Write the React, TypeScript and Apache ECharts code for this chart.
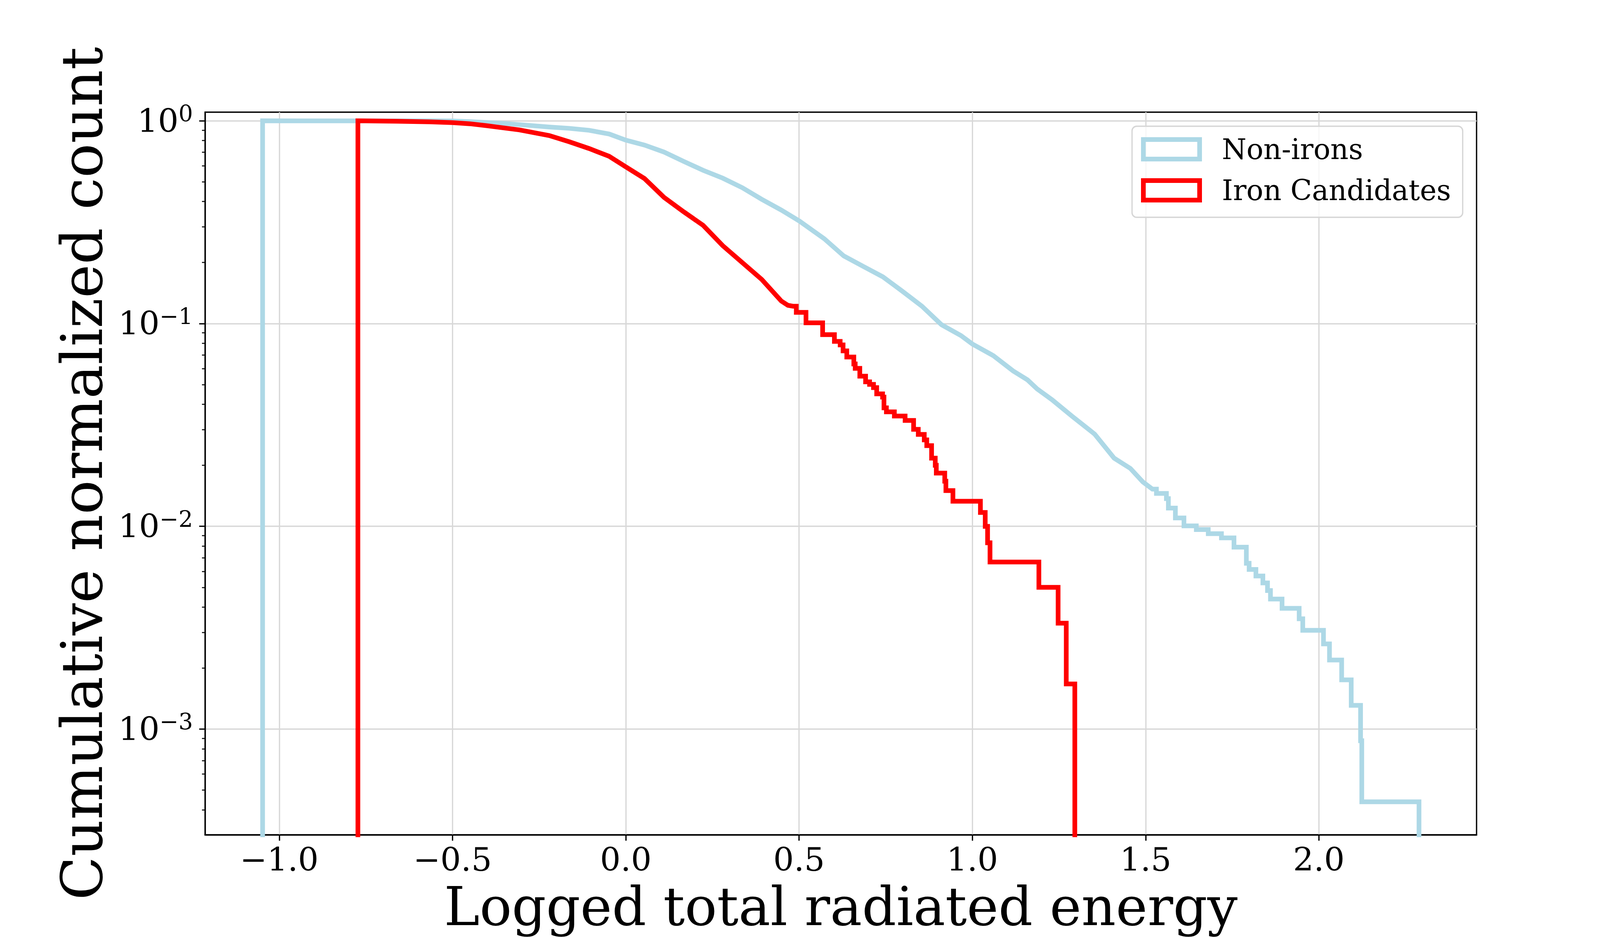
import React, { useEffect, useRef } from "react";
import * as echarts from "echarts";

// ---------- axis setup ----------
const X_TICKS = [-1.0, -0.5, 0.0, 0.5, 1.0, 1.5, 2.0];
const Y_DECADES = [-3, -2, -1, 0]; // exponents of the major log ticks
const X_RANGE = [-1.214, 2.455];
const Y_RANGE = [3.01e-4, 1.103]; // normalized count range (log scale)

// ---------- Non-irons (light blue) ----------
// dense part of the cumulative curve
const nonIronSmoothX = [-1.048, -0.55, -0.5, -0.45, -0.399, -0.336, -0.278, -0.221, -0.163, -0.106, -0.048, 0.0, 0.054, 0.1105, 0.1669, 0.2232, 0.2796, 0.336, 0.3923, 0.4487, 0.5013, 0.5727, 0.629, 0.6855, 0.742, 0.798, 0.8546, 0.911, 0.967, 1.0, 1.061, 1.1176, 1.159, 1.187, 1.23, 1.288, 1.353, 1.409, 1.456, 1.492];
const nonIronSmoothY = [1.0, 0.999, 0.998, 0.991, 0.981, 0.966, 0.949, 0.932, 0.918, 0.898, 0.861, 0.803, 0.759, 0.701, 0.631, 0.57, 0.5215, 0.468, 0.41, 0.363, 0.32, 0.262, 0.2155, 0.1913, 0.17, 0.1444, 0.1218, 0.0987, 0.0873, 0.0793, 0.0694, 0.0584, 0.0528, 0.0476, 0.0421, 0.0349, 0.0285, 0.0217, 0.0193, 0.01656];
// sparse tail: bin edges and the value held between consecutive edges
const nonIronStepEdges = [1.5197, 1.5312, 1.56, 1.5657, 1.5859, 1.6106, 1.6463, 1.6808, 1.7188, 1.755, 1.7907, 1.7987, 1.8183, 1.8384, 1.8517, 1.8603, 1.8937, 1.9431, 1.9535, 2.0133, 2.0306, 2.0657, 2.0933, 2.1203, 2.1238, 2.2889];
const nonIronStepValues = [0.01525, 0.01453, 0.0137, 0.0123, 0.011, 0.01005, 0.00964, 0.0092, 0.00877, 0.00789, 0.00657, 0.00613, 0.00569, 0.00526, 0.00482, 0.00438, 0.00394, 0.0035, 0.00307, 0.00263, 0.00219, 0.00175, 0.00131, 0.000876, 0.000438];

// ---------- Iron Candidates (red) ----------
const ironSmoothX = [-0.773, -0.66, -0.566, -0.5, -0.45, -0.4, -0.307, -0.221, -0.163, -0.106, -0.048, 0.0, 0.054, 0.1105, 0.1669, 0.2232, 0.2796, 0.336, 0.3923, 0.4487, 0.468];
const ironSmoothY = [1.0, 0.995, 0.988, 0.98, 0.967, 0.945, 0.902, 0.846, 0.788, 0.73, 0.668, 0.593, 0.519, 0.419, 0.356, 0.305, 0.2423, 0.2, 0.165, 0.1292, 0.123];
const ironStepEdges = [0.4825, 0.492, 0.52, 0.568, 0.602, 0.6186, 0.627, 0.6377, 0.658, 0.662, 0.6753, 0.692, 0.7035, 0.7148, 0.724, 0.741, 0.745, 0.752, 0.775, 0.806, 0.8305, 0.844, 0.8613, 0.8685, 0.8824, 0.893, 0.896, 0.9204, 0.9237, 0.944, 1.0233, 1.0372, 1.044, 1.051, 1.192, 1.2475, 1.271, 1.2957];
const ironStepValues = [0.1218, 0.1135, 0.1008, 0.0882, 0.0817, 0.0785, 0.0733, 0.0684, 0.0632, 0.0601, 0.055, 0.0516, 0.0501, 0.0483, 0.045, 0.0434, 0.0384, 0.0367, 0.035, 0.0333, 0.0301, 0.0284, 0.0267, 0.025, 0.0217, 0.02, 0.0183, 0.0167, 0.015, 0.0133, 0.0117, 0.01, 0.0083, 0.00667, 0.005, 0.00333, 0.00167];

const FONT = "DejaVu Serif";
const BLUE = "#ADD8E6";
const RED = "#FF0000";
const FLOOR_LOG = -5; // below the axis minimum: the outline drops to the axis and is clipped

function buildOutline(sx: number[], sy: number[], edges: number[], vals: number[]): number[][] {
  const pts: number[][] = [[sx[0], FLOOR_LOG]];
  sx.forEach((x, i) => pts.push([x, Math.log10(sy[i])]));
  for (let i = 0; i < vals.length; i++) {
    const l = Math.log10(vals[i]);
    pts.push([edges[i], l], [edges[i + 1], l]);
  }
  pts.push([edges[edges.length - 1], FLOOR_LOG]);
  return pts;
}

function minorLogTicks(lo: number, hi: number): number[] {
  const out: number[] = [];
  for (let d = -5; d <= 1; d++) {
    for (let k = 2; k <= 9; k++) {
      const v = d + Math.log10(k);
      if (v >= lo && v <= hi) out.push(v);
    }
  }
  return out;
}

export default function App() {
  const ref = useRef<HTMLDivElement>(null);
  useEffect(() => {
    document.body.style.margin = "0";
    if (!ref.current) return;
    const chart = echarts.init(ref.current, undefined, { renderer: "svg" });
    const yMin = Math.log10(Y_RANGE[0]);
    const yMax = Math.log10(Y_RANGE[1]);
    const fmtX = (v: number) => (v < 0 ? "\u2212" : "") + Math.abs(v).toFixed(1);
    const fmtY = (v: number) => {
      const e = Math.round(v);
      return e === 0 ? "{b|10}{s|0}" : `{b|10}{s|\u2212${-e}}`;
    };
    chart.setOption({
      animation: false,
      backgroundColor: "#ffffff",
      textStyle: { fontFamily: FONT },
      grid: {
        left: 525, right: 420, top: 287, bottom: 264,
        show: true, borderColor: "#000", borderWidth: 3.3, backgroundColor: "transparent",
      },
      legend: {
        orient: "vertical",
        left: 2898,
        top: 323,
        itemWidth: 144,
        itemHeight: 50,
        itemGap: 33,
        padding: [23, 30, 33, 23],
        backgroundColor: "rgba(255,255,255,0.8)",
        borderColor: "#d6d6d6",
        borderWidth: 3.3,
        borderRadius: 12,
        selectedMode: false,
        textStyle: { fontSize: 72, fontFamily: FONT, color: "#000", lineHeight: 60, padding: [0, 0, 0, 52] },
        data: [
          { name: "Non-irons", icon: "rect", itemStyle: { color: "rgba(255,255,255,0)", borderColor: BLUE, borderWidth: 12 } },
          { name: "Iron Candidates", icon: "rect", itemStyle: { color: "rgba(255,255,255,0)", borderColor: RED, borderWidth: 12 } },
        ],
      },
      xAxis: {
        type: "value",
        min: X_RANGE[0],
        max: X_RANGE[1],
        name: "Logged total radiated energy",
        nameLocation: "middle",
        nameGap: 115,
        nameTextStyle: { fontSize: 137, fontFamily: FONT, color: "#000", lineHeight: 137 },
        axisLine: { show: true, onZero: false, lineStyle: { color: "#000", width: 3.3 } },
        axisTick: { show: true, inside: false, length: 15, customValues: X_TICKS, lineStyle: { color: "#000", width: 3.3 } },
        axisLabel: { customValues: X_TICKS, formatter: fmtX, fontSize: 83, fontFamily: FONT, color: "#000", margin: 22, lineHeight: 83 },
        splitLine: { show: true, lineStyle: { color: "#d8d8d8", width: 3.3 } },
      },
      yAxis: [
        {
          type: "value",
          min: yMin,
          max: yMax,
          position: "left",
          name: "Cumulative normalized count",
          nameLocation: "middle",
          nameGap: 242,
          nameTextStyle: { fontSize: 146, fontFamily: FONT, color: "#000", lineHeight: 146 },
          axisLine: { show: true, onZero: false, lineStyle: { color: "#000", width: 3.3 } },
          axisTick: { show: true, inside: false, length: 15, customValues: Y_DECADES, lineStyle: { color: "#000", width: 3.3 } },
          axisLabel: {
            customValues: Y_DECADES,
            formatter: fmtY,
            margin: 31,
            rich: {
              b: { fontSize: 83, fontFamily: FONT, color: "#000", lineHeight: 96 },
              s: { fontSize: 58, fontFamily: FONT, color: "#000", lineHeight: 58, verticalAlign: "top" },
            },
          },
          splitLine: { show: true, lineStyle: { color: "#d8d8d8", width: 3.3 } },
        },
        {
          type: "value",
          min: yMin,
          max: yMax,
          position: "left",
          axisLine: { show: false, onZero: false },
          axisLabel: { show: false },
          splitLine: { show: false },
          axisTick: { show: true, inside: false, length: 8, customValues: minorLogTicks(yMin, yMax), lineStyle: { color: "#000", width: 2.5 } },
        },
      ],
      series: [
        {
          type: "line",
          name: "Non-irons",
          data: buildOutline(nonIronSmoothX, nonIronSmoothY, nonIronStepEdges, nonIronStepValues),
          showSymbol: false,
          symbol: "none",
          clip: true,
          itemStyle: { color: BLUE },
          lineStyle: { color: BLUE, width: 12, join: "miter", cap: "butt" },
          z: 3,
        },
        {
          type: "line",
          name: "Iron Candidates",
          data: buildOutline(ironSmoothX, ironSmoothY, ironStepEdges, ironStepValues),
          showSymbol: false,
          symbol: "none",
          clip: true,
          itemStyle: { color: RED },
          lineStyle: { color: RED, width: 12, join: "miter", cap: "butt" },
          z: 4,
        },
      ],
    });
    return () => chart.dispose();
  }, []);
  return <div ref={ref} style={{ width: "4200px", height: "2400px" }} />;
}
